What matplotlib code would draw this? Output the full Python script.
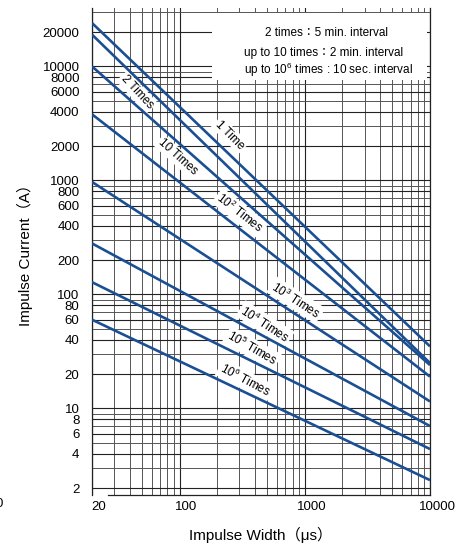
import numpy as np
import matplotlib
matplotlib.use("Agg")
import matplotlib.pyplot as plt
from matplotlib.patches import Rectangle
from matplotlib.transforms import ScaledTranslation

plt.rcParams['font.family'] = ['Liberation Sans', 'Noto Sans CJK JP']
plt.rcParams['mathtext.fontset'] = 'custom'
plt.rcParams['mathtext.rm'] = 'Liberation Sans'

# impulse derating curves, read at both ends (log-log straight lines)
pulse_width = [20, 10000]
i_1 = [24000, 35]
i_2 = [19000, 25]
i_10 = [10000, 24]
i_1e2 = [3800, 19]
i_1e3 = [970, 11.5]
i_1e4 = [280, 7.0]
i_1e5 = [128, 4.4]
i_1e6 = [60, 2.35]

curves = [i_1, i_2, i_10, i_1e2, i_1e3, i_1e4, i_1e5, i_1e6]

curve_labels = ['1 Time', '2 Times', '10 Times',
                r'10$^{\mathregular{2}}$ Times', r'10$^{\mathregular{3}}$ Times',
                r'10$^{\mathregular{4}}$ Times', r'10$^{\mathregular{5}}$ Times',
                r'10$^{\mathregular{6}}$ Times']
label_x = [253, 45.7, 97, 304, 851, 482, 379, 334]
label_y = [2500, 5960, 1600, 516, 89, 55, 33.8, 17.7]
label_rot = [-45, -47, -42, -38, -33, -33, -30, -28]

y_ticks = [2, 4, 6, 8, 10, 20, 40, 60, 80, 100, 200, 400, 600, 800,
           1000, 2000, 4000, 6000, 8000, 10000, 20000]
x_ticks = [20, 100, 1000, 10000]

notes = ['2 times\uff1a5 min. interval',
         'up to 10 times\uff1a2 min. interval',
         r'up to 10$^{\mathregular{6}}$ times : 10 sec. interval']

fig = plt.figure(figsize=(4.59, 5.44), dpi=100)
ax = fig.add_axes([92 / 459, 49 / 544, 338 / 459, 487 / 544])
ax.set_xscale('log')
ax.set_yscale('log')
ax.set_xlim(20, 10000)
ax.set_ylim(1.74, 32500)

ax.set_axisbelow(True)
ax.grid(True, which='major', color='#222222', lw=0.8)
ax.grid(True, which='minor', color='#555555', lw=0.7)

line_color = '#1b4f93'
for vals in curves:
    ax.plot(pulse_width, vals, color=line_color, lw=1.9, zorder=4,
            solid_capstyle='butt')

for txt, lx, ly, rot in zip(curve_labels, label_x, label_y, label_rot):
    ax.text(lx, ly, txt, rotation=rot, rotation_mode='anchor',
            ha='center', va='center', fontsize=8.5, zorder=3,
            bbox=dict(boxstyle='square,pad=0.15', fc='white', ec='none'))

# white panel with the test-interval notes
ax.add_patch(Rectangle((0.355, 0.852), 0.636, 0.138, transform=ax.transAxes,
                       fc='white', ec='none', zorder=2.5))
ax.text(0.512, 0.949, notes[0], transform=ax.transAxes, fontsize=8.5,
        ha='left', va='center', zorder=3)
ax.text(0.450, 0.908, notes[1], transform=ax.transAxes, fontsize=8.5,
        ha='left', va='center', zorder=3)
ax.text(0.450, 0.873, notes[2], transform=ax.transAxes, fontsize=8.5,
        ha='left', va='center', zorder=3)

ax.set_yticks(y_ticks)
ax.set_yticklabels([str(v) for v in y_ticks])
ax.set_xticks(x_ticks)
ax.set_xticklabels([str(v) for v in x_ticks])
ax.yaxis.set_minor_formatter(plt.NullFormatter())
ax.xaxis.set_minor_formatter(plt.NullFormatter())
ax.tick_params(which='both', length=0, labelsize=9.5)
ax.tick_params(axis='y', pad=9)
ax.tick_params(axis='x', pad=4)

# x tick labels sit a little right of their grid lines
shift = ScaledTranslation(7 / 100, 0, fig.dpi_scale_trans)
for lbl in ax.get_xticklabels():
    lbl.set_transform(lbl.get_transform() + shift)

ax.spines['top'].set_visible(False)
for s in ['left', 'right', 'bottom']:
    ax.spines[s].set_color('#222222')
    ax.spines[s].set_linewidth(0.9)
ax.spines['bottom'].set_bounds(27, 10000)

ax.set_xlabel('Impulse Width\uff08\u03bcs\uff09', fontsize=11)
ax.xaxis.set_label_coords(0.5, -0.066)
ax.set_ylabel('Impulse Current\uff08A\uff09', fontsize=11)
ax.yaxis.set_label_coords(-0.175, 0.5)

fig.text(3 / 459, 1 - 504 / 544, '0', ha='right', va='center', fontsize=9.5)

fig.savefig('out.png', dpi=100)
